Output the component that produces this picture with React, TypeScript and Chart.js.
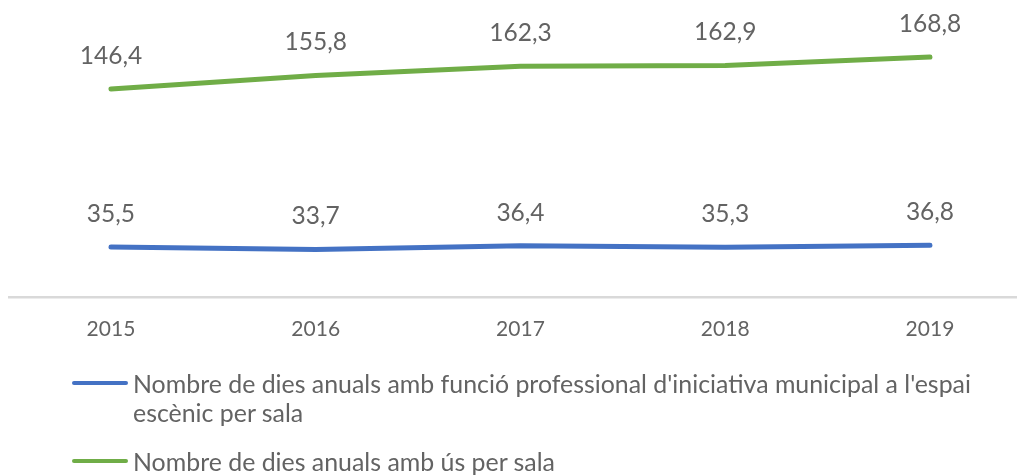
import React, { useEffect, useRef } from "react";
import { Chart, registerables } from "chart.js";

Chart.register(...registerables);

const years = ["2015", "2016", "2017", "2018", "2019"];
const seriesFuncio = [35.5, 33.7, 36.4, 35.3, 36.8];
const seriesUs = [146.4, 155.8, 162.3, 162.9, 168.8];
const legendFuncio = "Nombre de dies anuals amb funció professional d'iniciativa municipal a l'espai escènic per sala";
const legendUs = "Nombre de dies anuals amb ús per sala";

const BLUE = "#4472C4";
const GREEN = "#70AD47";
const TEXT = "#636363";
const FONT = "Lato, 'Open Sans', sans-serif";

const fmt = (v: number) => v.toFixed(1).replace(".", ",");

const labelPlugin = {
  id: "pointLabels",
  afterDatasetsDraw(chart: any) {
    const ctx = chart.ctx;
    ctx.save();
    ctx.font = `24.5px ${FONT}`;
    ctx.fillStyle = TEXT;
    ctx.textAlign = "center";
    ctx.textBaseline = "middle";
    chart.data.datasets.forEach((ds: any, di: number) => {
      const meta = chart.getDatasetMeta(di);
      meta.data.forEach((pt: any, i: number) => {
        const v = ds.data[i].y;
        ctx.fillText(fmt(v), pt.x, pt.y - 33);
      });
    });
    ctx.restore();
  },
};

export default function App() {
  const ref = useRef<HTMLCanvasElement>(null);
  useEffect(() => {
    if (!ref.current) return;
    const chart = new Chart(ref.current, {
      type: "line",
      data: {
        datasets: [
          {
            label: legendFuncio,
            data: seriesFuncio.map((y, i) => ({ x: i, y })),
            borderColor: BLUE,
            backgroundColor: BLUE,
            borderWidth: 5,
            pointRadius: 0,
            borderCapStyle: "round",
            borderJoinStyle: "round",
            tension: 0,
          },
          {
            label: legendUs,
            data: seriesUs.map((y, i) => ({ x: i, y })),
            borderColor: GREEN,
            backgroundColor: GREEN,
            borderWidth: 5,
            pointRadius: 0,
            borderCapStyle: "round",
            borderJoinStyle: "round",
            tension: 0,
          },
        ],
      },
      options: {
        animation: false,
        responsive: false,
        maintainAspectRatio: false,
        layout: { padding: { left: 9, right: 0, top: 12.6, bottom: 117.4 } },
        plugins: { legend: { display: false }, tooltip: { enabled: false } },
        scales: {
          x: {
            type: "linear",
            min: -0.498,
            max: 4.425,
            afterBuildTicks: (s: any) => {
              s.ticks = years.map((_, i) => ({ value: i }));
            },
            afterFit: (s: any) => {
              s.height = 60;
            },
            ticks: {
              callback: (v: any) => years[v as number],
              color: TEXT,
              font: { family: FONT, size: 21 },
              padding: 19,
              maxRotation: 0,
              autoSkip: false,
            },
            grid: { display: false, drawTicks: false },
            border: { display: true, color: "#D9D9D9", width: 2.5 },
          },
          y: {
            display: false,
            min: 0,
            max: 200,
          },
        },
      },
      plugins: [labelPlugin],
    } as any);
    return () => chart.destroy();
  }, []);

  const legendItem = (color: string, text: string, top: number) => (
    <div style={{ position: "absolute", left: 72, top, display: "flex", alignItems: "flex-start" }}>
      <div style={{ width: 56, height: 4, borderRadius: 2, background: color, marginTop: 12, flex: "none" }} />
      <div style={{ marginLeft: 5, width: 875, fontFamily: FONT, fontSize: 24.9, lineHeight: "29px", color: TEXT }}>{text}</div>
    </div>
  );

  return (
    <div style={{ position: "absolute", left: 0, top: 0, width: 1017, height: 475, background: "#fff", overflow: "hidden" }}>
      <canvas ref={ref} width={1017} height={475} style={{ position: "absolute", left: 0, top: 0 }} />
      {legendItem(BLUE, legendFuncio, 369)}
      {legendItem(GREEN, legendUs, 447)}
    </div>
  );
}
